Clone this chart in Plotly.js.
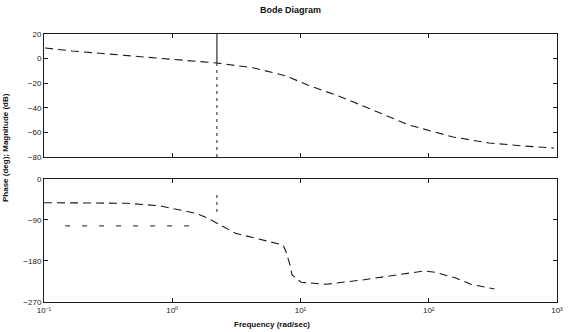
<!DOCTYPE html>
<html>
<head>
<meta charset="utf-8">
<script src="https://cdn.plot.ly/plotly-3.0.1.min.js"></script>
<style>html,body{margin:0;padding:0;background:#fff;}#chart{width:568px;height:332px;}</style>
</head>
<body>
<div id="chart"></div>
<script>
// ---- data ----
var freqMag = [0.102, 0.165, 0.321, 0.614, 1.17, 2.23, 4.34, 7.71, 11.4, 20.7, 36.7, 70.2, 154.5, 295, 562, 948];
var magDb   = [8.6, 6.2, 3.7, 1.3, -1.1, -3.6, -7.6, -14.1, -21.5, -31.2, -41.8, -54.0, -63.7, -68.6, -71.1, -72.7];

var freqPhase = [0.1, 0.444, 0.789, 1.53, 1.90, 2.23, 3.11, 7.31, 7.71, 8.28, 8.59, 10.1, 15.8, 30.2, 58.6, 91.8, 112, 164.6, 213, 326];
var phaseDeg  = [-52, -53.3, -58.6, -75.3, -86.3, -97.2, -119.2, -144.9, -159.6, -188.8, -210.7, -226.7, -231.1, -221.7, -209.2, -201.9, -204.8, -218, -231.1, -241.4];

var markerFreq = [2.23, 2.23];
var markerMagUpper = [20, -3.6];
var markerMagLower = [-3.6, -80];
var markerPhase = [-35, -75];
var refFreq = [0.146, 1.53];
var refPhase = [-103, -103];

var xTickVals = [0.1, 1, 10, 100, 1000];
var xTickText = ['10\u207B\u00B9', '10\u2070', '10\u00B9', '10\u00B2', '10\u00B3'];
var magTickVals = [-80, -60, -40, -20, 0, 20];
var phaseTickVals = [-270, -180, -90, 0];

// ---- drawing ----
var ink = '#1a1a1a';
var traces = [
  {x: freqMag, y: magDb, xaxis: 'x', yaxis: 'y', mode: 'lines',
   line: {color: ink, width: 1.1, dash: '8px,5px'}, hoverinfo: 'skip'},
  {x: markerFreq, y: markerMagUpper, xaxis: 'x', yaxis: 'y', mode: 'lines',
   line: {color: ink, width: 1.1}, hoverinfo: 'skip'},
  {x: markerFreq, y: markerMagLower, xaxis: 'x', yaxis: 'y', mode: 'lines',
   line: {color: ink, width: 1, dash: '3px,4px'}, hoverinfo: 'skip'},
  {x: freqPhase, y: phaseDeg, xaxis: 'x2', yaxis: 'y2', mode: 'lines',
   line: {color: ink, width: 1.1, dash: '8px,5px'}, hoverinfo: 'skip'},
  {x: markerFreq, y: markerPhase, xaxis: 'x2', yaxis: 'y2', mode: 'lines',
   line: {color: ink, width: 1, dash: '3px,4px'}, hoverinfo: 'skip'},
  {x: refFreq, y: refPhase, xaxis: 'x2', yaxis: 'y2', mode: 'lines',
   line: {color: ink, width: 1, dash: '5px,12px'}, hoverinfo: 'skip'}
];

var axisFont = {family: 'Liberation Sans, Arial, sans-serif', size: 8, color: '#222'};
var commonX = {
  type: 'log', range: [-1, 3], showgrid: false, zeroline: false,
  showline: true, mirror: 'ticks', linecolor: ink, linewidth: 1,
  ticks: 'inside', ticklen: 4, tickcolor: ink,
  tickvals: xTickVals, ticktext: xTickText, tickfont: axisFont
};
var commonY = {
  showgrid: false, zeroline: false, showline: true, mirror: 'ticks',
  linecolor: ink, linewidth: 1, ticks: 'inside', ticklen: 4, tickcolor: ink,
  tickfont: axisFont
};

var layout = {
  width: 568, height: 332,
  margin: {l: 44, r: 11, t: 34, b: 30, pad: 0},
  paper_bgcolor: '#fff', plot_bgcolor: '#fff',
  showlegend: false,
  title: {text: '<b>Bode Diagram</b>', x: 273 / 568, xanchor: 'center', xref: 'paper',
          y: 1 - 10 / 332, yanchor: 'middle', yref: 'container',
          font: {family: 'Liberation Sans, Arial, sans-serif', size: 9, color: '#111'}},
  xaxis: Object.assign({}, commonX, {anchor: 'y', matches: 'x2', showticklabels: false}),
  yaxis: Object.assign({}, commonY, {domain: [0.541, 1], range: [-80, 20], tickvals: magTickVals}),
  xaxis2: Object.assign({}, commonX, {anchor: 'y2'}),
  yaxis2: Object.assign({}, commonY, {domain: [0, 0.459], range: [-270, 0], tickvals: phaseTickVals}),
  annotations: [
    {text: '<b>Frequency (rad/sec)</b>', xref: 'paper', yref: 'paper',
     x: (272 - 44) / 513, y: -(324 - 302) / 268, xanchor: 'center', yanchor: 'middle',
     showarrow: false, font: {family: 'Liberation Sans, Arial, sans-serif', size: 8, color: '#111'}},
    {text: '<b>Phase (deg); Magnitude (dB)</b>', xref: 'paper', yref: 'paper',
     x: -(39 / 513), y: (302 - 148) / 268, xanchor: 'center', yanchor: 'middle', textangle: -90,
     showarrow: false, font: {family: 'Liberation Sans, Arial, sans-serif', size: 8, color: '#111'}}
  ]
};

Plotly.newPlot('chart', traces, layout, {staticPlot: true, displayModeBar: false});
</script>
</body>
</html>
